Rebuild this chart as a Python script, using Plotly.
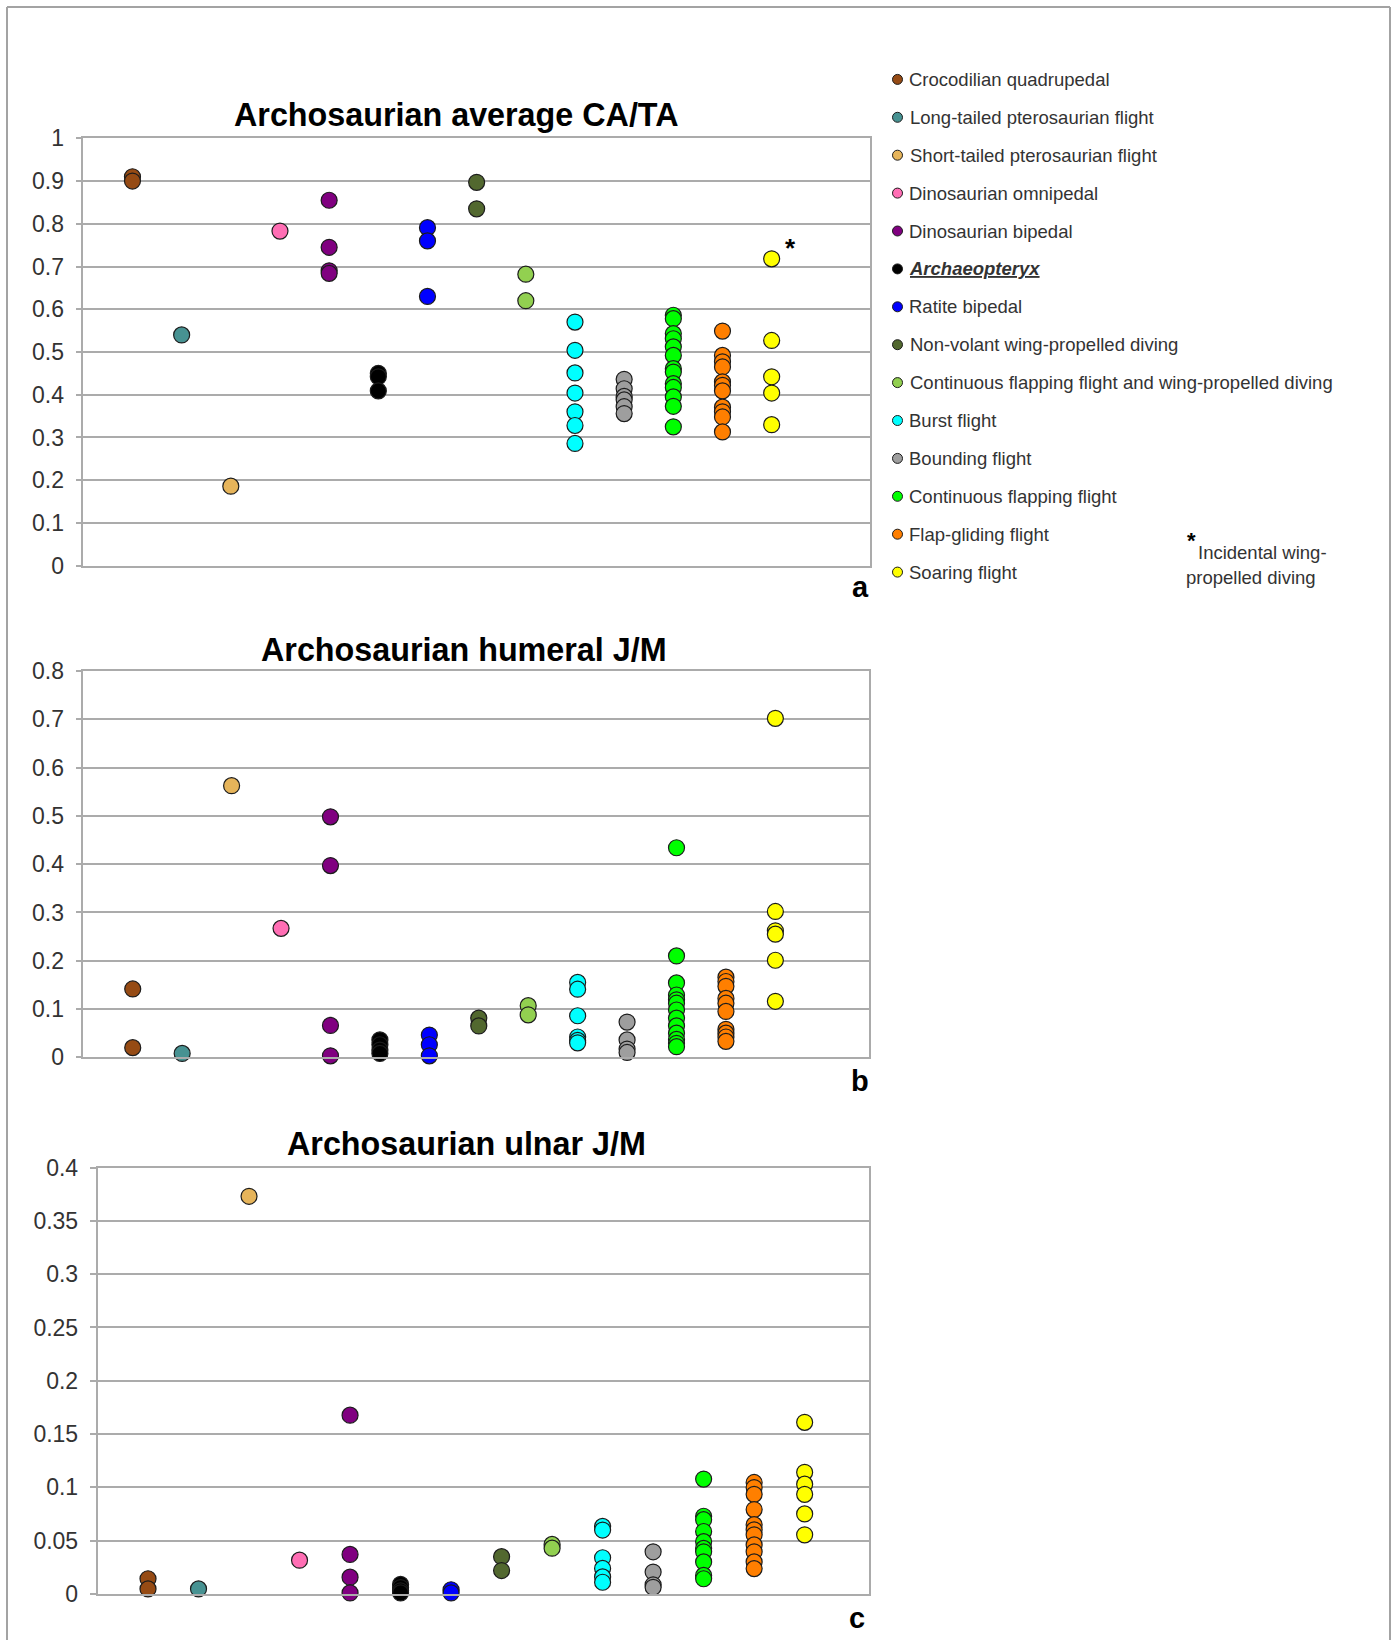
import plotly.graph_objects as go

# ---------------------------------------------------------------------------
# Locomotor groups (x categories 1..14) and their marker colours
# ---------------------------------------------------------------------------
GROUPS = [
    "Crocodilian quadrupedal",
    "Long-tailed pterosaurian flight",
    "Short-tailed pterosaurian flight",
    "Dinosaurian omnipedal",
    "Dinosaurian bipedal",
    "Archaeopteryx",
    "Ratite bipedal",
    "Non-volant wing-propelled diving",
    "Continuous flapping flight and wing-propelled diving",
    "Burst flight",
    "Bounding flight",
    "Continuous flapping flight",
    "Flap-gliding flight",
    "Soaring flight",
]

COLORS = [
    "#964B14", "#479292", "#E6B45A", "#FF6EB4", "#800080", "#000000", "#0000FF",
    "#52682F", "#92D050", "#00FFFF", "#9E9E9E", "#00FF00", "#FF7F00", "#FFFF00",
]

# ---------------------------------------------------------------------------
# (a) average CA/TA, one list per group
# ---------------------------------------------------------------------------
CATA = [
    [0.91, 0.90],
    [0.54],
    [0.186],
    [0.783],
    [0.855, 0.745, 0.69, 0.684],
    [0.45, 0.442, 0.409],
    [0.791, 0.76, 0.63],
    [0.897, 0.835],
    [0.682, 0.62],
    [0.570, 0.504, 0.451, 0.404, 0.360, 0.328, 0.286],
    [0.436, 0.414, 0.396, 0.388, 0.372, 0.356],
    [0.586, 0.578, 0.543, 0.531, 0.512, 0.492, 0.461, 0.453, 0.426, 0.417, 0.395, 0.373, 0.325],
    [0.549, 0.492, 0.477, 0.465, 0.430, 0.422, 0.409, 0.371, 0.360, 0.348, 0.313],
    [0.718, 0.527, 0.442, 0.404, 0.330],
]

# (b) humeral J/M
HUMERAL = [
    [0.1415, 0.020],
    [0.008],
    [0.5625],
    [0.267],
    [0.498, 0.397, 0.066, 0.003],
    [0.036, 0.026, 0.015, 0.008],
    [0.046, 0.026, 0.003],
    [0.081, 0.065],
    [0.107, 0.088],
    [0.155, 0.141, 0.086, 0.042, 0.035, 0.030],
    [0.073, 0.036, 0.017, 0.010],
    [0.434, 0.210, 0.154, 0.129, 0.119, 0.112, 0.098, 0.081, 0.065, 0.050, 0.037, 0.029, 0.022],
    [0.166, 0.157, 0.147, 0.122, 0.112, 0.095, 0.058, 0.050, 0.042, 0.033],
    [0.702, 0.302, 0.262, 0.255, 0.201, 0.116],
]

# (c) ulnar J/M
ULNAR = [
    [0.0143, 0.0048],
    [0.0048],
    [0.373],
    [0.0317],
    [0.1677, 0.0371, 0.0158, 0.001],
    [0.009, 0.006, 0.003, 0.001],
    [0.004, 0.001],
    [0.035, 0.022],
    [0.0465, 0.043],
    [0.0634, 0.060, 0.034, 0.024, 0.016, 0.011],
    [0.0396, 0.0206, 0.0086, 0.0063],
    [0.1078, 0.0729, 0.0697, 0.0586, 0.0491, 0.0428, 0.0396, 0.0301, 0.0174, 0.0143],
    [0.1046, 0.0998, 0.0935, 0.0792, 0.065, 0.0602, 0.0555, 0.046, 0.0396, 0.0301, 0.0238],
    [0.161, 0.1141, 0.103, 0.0935, 0.0751, 0.0555],
]

TITLES = [
    "Archosaurian average CA/TA",
    "Archosaurian humeral J/M",
    "Archosaurian ulnar J/M",
]
PANEL_LETTERS = ["a", "b", "c"]

TICKS_A = [0, 0.1, 0.2, 0.3, 0.4, 0.5, 0.6, 0.7, 0.8, 0.9, 1]
TICKTEXT_A = ["0", "0.1", "0.2", "0.3", "0.4", "0.5", "0.6", "0.7", "0.8", "0.9", "1"]
TICKS_B = [0, 0.1, 0.2, 0.3, 0.4, 0.5, 0.6, 0.7, 0.8]
TICKTEXT_B = ["0", "0.1", "0.2", "0.3", "0.4", "0.5", "0.6", "0.7", "0.8"]
TICKS_C = [0, 0.05, 0.1, 0.15, 0.2, 0.25, 0.3, 0.35, 0.4]
TICKTEXT_C = ["0", "0.05", "0.1", "0.15", "0.2", "0.25", "0.3", "0.35", "0.4"]

NOTE_LINES = ["Incidental wing-", "propelled diving"]

# ---------------------------------------------------------------------------
# Page geometry (pixels) and helpers
# ---------------------------------------------------------------------------
W, H = 1397, 1640
FONT = "Liberation Sans, Arial, Helvetica, sans-serif"
GRID = "#ababab"
TEXT = "#333333"


def px(x):
    return x / W


def py(y):
    return 1 - y / H


panels = [
    dict(data=CATA, box=(83.3, 870.0, 138.3, 565.7), xr=[0, 16], yr=[0, 1],
         ticks=TICKS_A, ticktext=TICKTEXT_A, title_xy=(456, 114.5), letter_xy=(860.5, 587.5)),
    dict(data=HUMERAL, box=(83.3, 869.3, 671.0, 1057.3), xr=[0, 15.9], yr=[0, 0.8],
         ticks=TICKS_B, ticktext=TICKTEXT_B, title_xy=(463.5, 650), letter_xy=(859.5, 1080.5)),
    dict(data=ULNAR, box=(97.5, 869.3, 1167.5, 1594.0), xr=[0, 15.28], yr=[0, 0.4],
         ticks=TICKS_C, ticktext=TICKTEXT_C, title_xy=(466, 1143.5), letter_xy=(856.5, 1618)),
]

fig = go.Figure()
layout = dict(
    width=W, height=H,
    margin=dict(l=0, r=0, t=0, b=0, pad=0, autoexpand=False),
    paper_bgcolor="white", plot_bgcolor="white",
    showlegend=False,
    font=dict(family=FONT, color=TEXT),
)
annotations = []
shapes = []

for k, p in enumerate(panels):
    sfx = "" if k == 0 else str(k + 1)
    xa, ya = "x" + sfx, "y" + sfx
    x0, x1, ytop, ybot = p["box"]

    for g, vals in enumerate(p["data"]):
        fig.add_trace(go.Scatter(
            x=[g + 1] * len(vals), y=vals,
            mode="markers",
            xaxis=xa, yaxis=ya,
            cliponaxis=False,
            hovertext=GROUPS[g],
            marker=dict(size=16, color=COLORS[g],
                        line=dict(width=1.2, color="#1c1c1c")),
        ))

    layout["xaxis" + sfx] = dict(
        domain=[px(x0), px(x1)], range=p["xr"], anchor=ya,
        showgrid=False, zeroline=False, showticklabels=False, ticks="",
        showline=True, linecolor=GRID, linewidth=1.5, mirror=True, fixedrange=True,
        automargin=False,
    )
    layout["yaxis" + sfx] = dict(
        domain=[py(ybot), py(ytop)], range=p["yr"], anchor=xa,
        tickvals=p["ticks"], ticktext=p["ticktext"],
        showgrid=True, gridcolor=GRID, gridwidth=1.5, zeroline=False,
        showline=True, linecolor=GRID, linewidth=1.5, mirror=True,
        ticks="outside", ticklen=6, tickwidth=1.5, tickcolor=GRID,
        ticklabelstandoff=7, automargin=False,
        tickfont=dict(family=FONT, size=23, color=TEXT), fixedrange=True,
    )

    tx, ty = p["title_xy"]
    annotations.append(dict(
        x=px(tx), y=py(ty), xref="paper", yref="paper",
        xanchor="center", yanchor="middle", showarrow=False,
        text="<b>" + TITLES[k] + "</b>",
        font=dict(family=FONT, size=32.3, color="#000000"),
    ))
    lx, ly = p["letter_xy"]
    annotations.append(dict(
        x=px(lx), y=py(ly), xref="paper", yref="paper",
        xanchor="center", yanchor="middle", showarrow=False,
        text="<b>" + PANEL_LETTERS[k] + "</b>",
        font=dict(family=FONT, size=29, color="#000000"),
    ))

# asterisk next to the soaring-flight diver in panel a
annotations.append(dict(
    x=14, y=CATA[13][0], xref="x", yref="y",
    xanchor="center", yanchor="middle", xshift=19, yshift=11, showarrow=False,
    text="<b>*</b>", font=dict(family=FONT, size=26, color="#000000"),
))

# legend column
LEG_X_MARK, LEG_X_TEXT, LEG_Y0, LEG_DY = 897.5, 907.5, 79.4, 37.9
for g, name in enumerate(GROUPS):
    yc = LEG_Y0 + g * LEG_DY
    shapes.append(dict(
        type="circle", xref="paper", yref="paper",
        x0=px(LEG_X_MARK - 5), x1=px(LEG_X_MARK + 5),
        y0=py(yc + 5), y1=py(yc - 5),
        fillcolor=COLORS[g], line=dict(color="#1c1c1c", width=1),
    ))
    label = "<b><i><u>" + name + "</u></i></b>" if name == "Archaeopteryx" else name
    annotations.append(dict(
        x=px(LEG_X_TEXT), y=py(yc), xref="paper", yref="paper",
        xanchor="left", yanchor="middle", showarrow=False,
        text=label, font=dict(family=FONT, size=18.5, color=TEXT),
    ))

# footnote for the asterisk
annotations.append(dict(
    x=px(1191), y=py(541), xref="paper", yref="paper",
    xanchor="center", yanchor="middle", showarrow=False,
    text="<b>*</b>", font=dict(family=FONT, size=22, color="#000000"),
))
annotations.append(dict(
    x=px(1196), y=py(552.5), xref="paper", yref="paper",
    xanchor="left", yanchor="middle", showarrow=False,
    text=NOTE_LINES[0], font=dict(family=FONT, size=18.5, color=TEXT),
))
annotations.append(dict(
    x=px(1184), y=py(577), xref="paper", yref="paper",
    xanchor="left", yanchor="middle", showarrow=False,
    text=NOTE_LINES[1], font=dict(family=FONT, size=18.5, color=TEXT),
))

# outer frame of the figure (top, left and right edges; open at the page bottom)
FRAME = dict(color="#a3a3a3", width=2)
for (fx0, fy0, fx1, fy1) in [(7, 7, 1390, 7), (7, 7, 7, 1640), (1390, 7, 1390, 1640)]:
    shapes.append(dict(
        type="line", xref="paper", yref="paper",
        x0=px(fx0), y0=py(fy0), x1=px(fx1), y1=py(fy1), line=FRAME,
    ))

layout["annotations"] = annotations
layout["shapes"] = shapes
fig.update_layout(**layout)

fig.write_html("out.html")
